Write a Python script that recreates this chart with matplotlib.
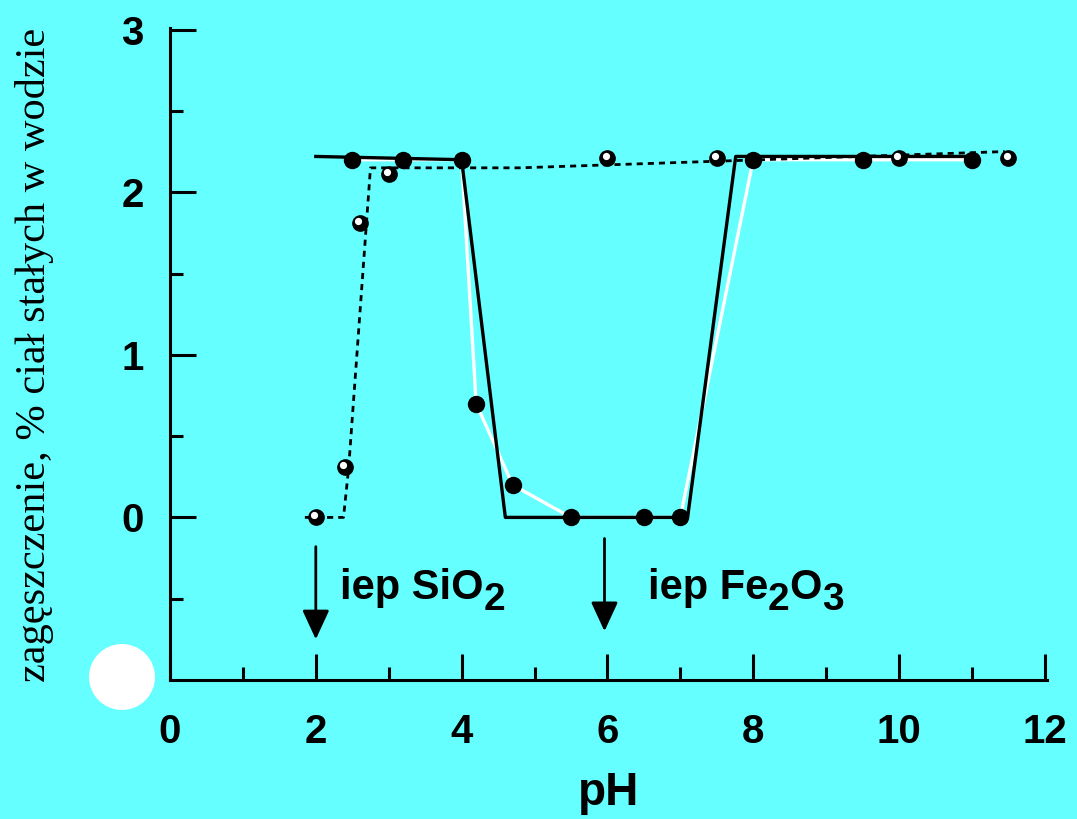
import matplotlib
matplotlib.use("Agg")
import matplotlib.pyplot as plt
import matplotlib.transforms as mtransforms
from matplotlib.patches import Ellipse

# Fe2O3 suspension (filled dots) and SiO2 suspension (open dots)
ph_fe = [2.5, 3.2, 4.0, 4.2, 4.7, 5.5, 6.5, 7.0, 8.0, 9.5, 11.0]
conc_fe = [2.2, 2.2, 2.2, 0.7, 0.2, 0.0, 0.0, 0.0, 2.2, 2.2, 2.2]

ph_si = [2.0, 2.4, 2.6, 3.0, 6.0, 7.5, 10.0, 11.5]
conc_si = [0.0, 0.31, 1.81, 2.11, 2.21, 2.21, 2.21, 2.21]

# trend lines
trend_fe_x = [2.0, 4.0, 4.6, 7.1, 7.76, 11.05]
trend_fe_y = [2.22, 2.2, 0.0, 0.0, 2.22, 2.22]

trend_si_x = [1.85, 2.38, 2.45, 2.75, 4.8, 11.45]
trend_si_y = [0.0, 0.0, 0.3, 2.15, 2.15, 2.25]

iep_ph = [2.0, 5.96]
iep_top = [-0.18, -0.13]
iep_tip = [-0.75, -0.70]
iep_text_x = [2.33, 6.55]

bg = "#66FFFF"
sans = "Liberation Sans"

fig = plt.figure(figsize=(10.77, 8.19), dpi=100, facecolor=bg)
ax = fig.add_axes([170 / 1077, 139 / 819, 877 / 1077, 652 / 819], facecolor=bg)

ax.plot(ph_fe, conc_fe, color="white", lw=2.4, zorder=1)
ax.plot(trend_si_x, trend_si_y, color="black", lw=2.0, ls=(0, (2.2, 1.8)), zorder=2)
ax.plot(trend_fe_x, trend_fe_y, color="black", lw=2.4, zorder=3)
ax.plot(ph_fe, conc_fe, "o", color="black", ms=11.5, zorder=4)

ax.plot(ph_si, conc_si, "o", color="black", ms=11, zorder=5)
shift = mtransforms.ScaledTranslation(-1.3 / 72, 1.4 / 72, fig.dpi_scale_trans)
ax.plot(ph_si, conc_si, "o", color="white", ms=5.2, mew=0,
        transform=ax.transData + shift, zorder=6)

for x, y0, y1 in zip(iep_ph, iep_top, iep_tip):
    ax.annotate("", xy=(x, y1), xytext=(x, y0),
                arrowprops=dict(arrowstyle="-|>,head_length=18,head_width=8.3",
                                mutation_scale=1, color="black", lw=2,
                                shrinkA=0, shrinkB=0))


def chem_label(x, y, parts):
    # parts: list of (text, is_subscript)
    prev = None
    prev_sub = False
    for txt, sub in parts:
        size = 28 if sub else 30
        if prev is None:
            prev = ax.text(x, y, txt, fontsize=size, fontweight="bold",
                           family=sans, ha="left", va="bottom")
        else:
            dy = -7 if sub else 0
            if prev_sub and not sub:
                dy = 7
            prev = ax.annotate(txt, xy=(1, 0), xycoords=prev, xytext=(0, dy),
                               textcoords="offset points", fontsize=size,
                               fontweight="bold", family=sans,
                               ha="left", va="bottom")
        prev_sub = sub


chem_label(iep_text_x[0], -0.56, [("iep SiO", False), ("2", True)])
chem_label(iep_text_x[1], -0.56, [("iep Fe", False), ("2", True), ("O", False), ("3", True)])

ax.set_xlim(0, 12.03)
ax.set_ylim(-1, 3.01)
ax.set_xticks(range(0, 13, 2))
ax.set_xticks(range(1, 12, 2), minor=True)
ax.set_yticks([0, 1, 2, 3])
ax.set_yticks([-0.5, 0.5, 1.5, 2.5], minor=True)
ax.set_yticklabels(["0", "1", "2", "3"])

for s in ["top", "right"]:
    ax.spines[s].set_visible(False)
for s in ["left", "bottom"]:
    ax.spines[s].set_linewidth(2.2)

ax.tick_params(which="major", direction="in", length=19, width=2.2)
ax.tick_params(which="minor", direction="in", length=9.5, width=2.2)
ax.tick_params(axis="x", which="major", pad=24)
ax.tick_params(axis="y", which="major", pad=19)
for lab in ax.get_xticklabels() + ax.get_yticklabels():
    lab.set_fontsize(29)
    lab.set_fontweight("bold")
    lab.set_family(sans)

ax.set_xlabel("pH", fontsize=33, fontweight="bold", family=sans, labelpad=14)

fig.text(35 / 1077, 1 - 355 / 819, "zagęszczenie, % ciał stałych w wodzie",
         rotation=90, ha="center", va="center", fontsize=30.5,
         family="Liberation Serif")

fig.patches.append(Ellipse((122 / 1077, 1 - 677 / 819), 66 / 1077, 66 / 819,
                           transform=fig.transFigure, facecolor="white",
                           edgecolor="none"))

fig.savefig("out.png", dpi=100, facecolor=bg)
